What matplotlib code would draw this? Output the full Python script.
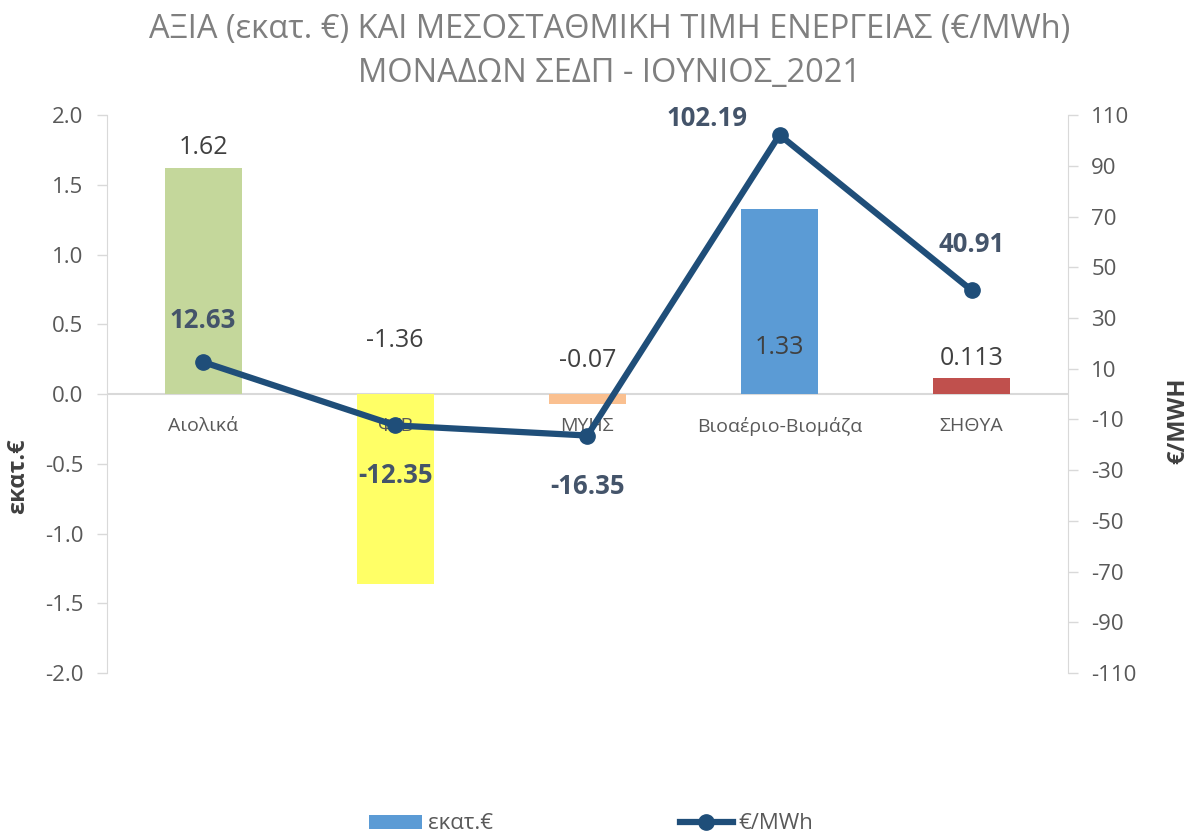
import matplotlib
matplotlib.use("Agg")
import matplotlib.pyplot as plt
from matplotlib.patches import Patch
from matplotlib.lines import Line2D

plt.rcParams["font.family"] = ["Open Sans", "DejaVu Sans"]
plt.rcParams["axes.unicode_minus"] = False

# data
categories = ["Αιολικά", "Φ/Β", "ΜΥΗΣ", "Βιοαέριο-Βιομάζα", "ΣΗΘΥΑ"]
value_meur = [1.62, -1.36, -0.07, 1.33, 0.113]
value_labels = ["1.62", "-1.36", "-0.07", "1.33", "0.113"]
price_mwh = [12.63, -12.35, -16.35, 102.19, 40.91]
price_labels = ["12.63", "-12.35", "-16.35", "102.19", "40.91"]

bar_colors = ["#C4D79B", "#FFFF66", "#FAC090", "#5B9BD5", "#C0504D"]
line_color = "#1F4E79"
grey = "#595959"
axis_grey = "#D9D9D9"

# label placement (left-axis data y for bar labels, point offsets for line labels)
bar_label_y = [1.765, 0.387, 0.244, 0.337, 0.258]
line_label_off = [(0, 30), (0, -36), (0, -37), (-52, 12), (0, 33)]

fig = plt.figure(figsize=(11.97, 8.34), dpi=100)
ax = fig.add_axes([0.0894, 0.193, 0.8026, 0.669])
x = list(range(len(categories)))

ax.bar(x, value_meur, width=0.4, color=bar_colors, zorder=2)
ax.axhline(0, color=axis_grey, lw=1.5, zorder=1)
ax.set_xlim(-0.5, len(categories) - 0.5)
ax.set_ylim(-2.0, 2.0)
ax.set_yticks([i / 2 for i in range(-4, 5)])
ax.set_yticklabels([f"{i / 2:.1f}" for i in range(-4, 5)])
ax.set_xticks([])
for s in ["top", "bottom", "right"]:
    ax.spines[s].set_visible(False)
ax.spines["left"].set_color(axis_grey)
ax.tick_params(axis="y", colors=axis_grey, labelcolor=grey, labelsize=16,
               length=7, width=1, pad=10)

for i, name in enumerate(categories):
    ax.annotate(name, xy=(i, 0), xytext=(0, -23), textcoords="offset points",
                ha="center", va="center", fontsize=14, color=grey, zorder=3)
for i, lab in enumerate(value_labels):
    ax.text(i, bar_label_y[i], lab, ha="center", va="center",
            fontsize=18, color="#404040", zorder=5)

ax.set_ylabel("εκατ.€", fontsize=17, fontweight="bold", color="#404040")
ax.yaxis.set_label_coords(-0.080, 0.353)

ax2 = ax.twinx()
ax2.plot(x, price_mwh, color=line_color, lw=4.5, marker="o", ms=11,
         zorder=4)
ax2.set_ylim(-110, 110)
ax2.set_yticks(range(-110, 111, 20))
for s in ["top", "bottom", "left"]:
    ax2.spines[s].set_visible(False)
ax2.spines["right"].set_color(axis_grey)
ax2.tick_params(axis="y", colors=axis_grey, labelcolor=grey, labelsize=16,
                length=7, width=1, pad=10)
ax2.set_ylabel("€/MWH", fontsize=17, fontweight="bold", color="#404040",
               rotation=90)
ax2.yaxis.set_label_coords(1.103, 0.453)

for i, lab in enumerate(price_labels):
    ax2.annotate(lab, xy=(i, price_mwh[i]), xytext=line_label_off[i],
                 textcoords="offset points", ha="center", va="center",
                 fontsize=18.5, fontweight="bold", color="#44546A", zorder=6)

title_color = "#7F7F7F"
fig.text(0.509, 0.9544, "ΑΞΙΑ (εκατ. €) ΚΑΙ ΜΕΣΟΣΤΑΘΜΙΚΗ ΤΙΜΗ ΕΝΕΡΓΕΙΑΣ (€/MWh)",
         ha="center", va="baseline", fontsize=23.5, color=title_color)
fig.text(0.509, 0.9017, "ΜΟΝΑΔΩΝ ΣΕΔΠ - ΙΟΥΝΙΟΣ_2021",
         ha="center", va="baseline", fontsize=23.5, color=title_color)

handles = [Patch(facecolor="#5B9BD5"),
           Line2D([], [], color=line_color, lw=4.5, marker="o", ms=11)]
fig.legend(handles, ["εκατ.€", "€/MWh"], loc="center", ncol=2,
           bbox_to_anchor=(0.494, 0.012), frameon=False, fontsize=16,
           labelcolor=grey, columnspacing=8.4, handlelength=2.4,
           handleheight=0.6, handletextpad=0.25)

fig.savefig("out.png", dpi=100)
